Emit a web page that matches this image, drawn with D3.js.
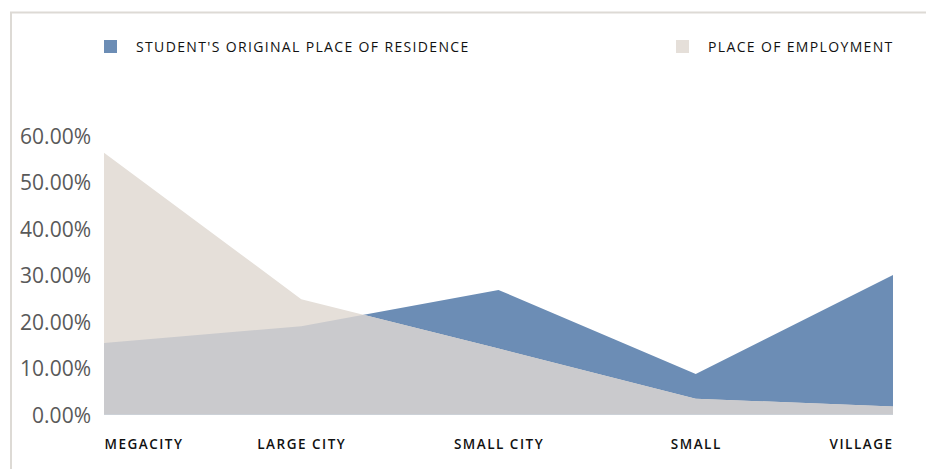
<!DOCTYPE html>
<html>
<head>
	<meta charset="UTF-8">
	<title>Place of residence vs place of employment</title>
	<script src="https://cdnjs.cloudflare.com/ajax/libs/d3/7.8.5/d3.min.js"></script>
	<style>
		body { margin: 0; background: #fff; }
		.tick text { font-family: "Open Sans", sans-serif; }
	</style>
</head>
<body>
	<script>
		// chart data
		var categories = ["MEGACITY", "LARGE CITY", "SMALL CITY", "SMALL", "VILLAGE"];
		var residence = [0.154, 0.190, 0.268, 0.087, 0.300];
		var employment = [0.563, 0.248, 0.142, 0.034, 0.017];
		var seriesNames = ["STUDENT'S ORIGINAL PLACE OF RESIDENCE", "PLACE OF EMPLOYMENT"];
		var yTicks = [0, 0.1, 0.2, 0.3, 0.4, 0.5, 0.6];

		var W = 926, H = 469;
		var blue = "#6c8db5", beige = "#e5dfd9", overlap = "#cacacd";

		var svg = d3.select("body").append("svg")
		    .attr("width", W)
		    .attr("height", H);

		// frame
		svg.append("path")
		    .attr("d", "M11," + H + "V12.5H" + W)
		    .attr("fill", "none")
		    .attr("stroke", "#dddad5")
		    .attr("stroke-width", 2);

		// scales
		var x = d3.scalePoint().domain(categories).range([104, 893]);
		var y = d3.scaleLinear().domain([0, 0.6]).range([414.5, 135.5]);

		var rows = categories.map(function(c, i) {
		    return {cat: c, res: residence[i], emp: employment[i]};
		});

		var areaRes = d3.area()
		    .x(function(d) { return x(d.cat); })
		    .y0(y(0))
		    .y1(function(d) { return y(d.res); });

		var areaEmp = d3.area()
		    .x(function(d) { return x(d.cat); })
		    .y0(y(0))
		    .y1(function(d) { return y(d.emp); });

		svg.append("clipPath")
		    .attr("id", "clip-res")
		    .append("path")
		    .attr("d", areaRes(rows));

		svg.append("path").attr("d", areaRes(rows)).attr("fill", blue);
		svg.append("path").attr("d", areaEmp(rows)).attr("fill", beige);
		// where the two areas overlap
		svg.append("path")
		    .attr("d", areaEmp(rows))
		    .attr("fill", overlap)
		    .attr("clip-path", "url(#clip-res)");

		// y axis
		var gy = svg.append("g")
		    .attr("transform", "translate(91,0)")
		    .call(d3.axisLeft(y).tickValues(yTicks).tickFormat(d3.format(".2%")).tickSize(0).tickPadding(0));
		gy.select(".domain").remove();
		gy.selectAll("text")
		    .attr("fill", "#595959")
		    .style("font-size", "21px")
		    .attr("dy", "0.36em");

		// x axis
		var gx = svg.append("g")
		    .attr("transform", "translate(0,439)")
		    .call(d3.axisBottom(x).tickSize(0).tickPadding(0));
		gx.select(".domain").remove();
		gx.selectAll("text")
		    .attr("fill", "#111")
		    .style("font-size", "13.5px")
		    .style("font-weight", "600")
		    .style("letter-spacing", "1.5px")
		    .attr("dy", "0.71em")
		    .style("text-anchor", function(d, i) {
		        return i === 0 ? "start" : (i === categories.length - 1 ? "end" : "middle");
		    });

		// legend
		var legend = [
		    {name: seriesNames[0], color: blue, x: 104},
		    {name: seriesNames[1], color: beige, x: 676}
		];
		var lg = svg.selectAll(".legend")
		    .data(legend)
		    .enter().append("g")
		    .attr("class", "legend")
		    .attr("transform", function(d) { return "translate(" + d.x + ",40)"; });
		lg.append("rect")
		    .attr("width", 13)
		    .attr("height", 13)
		    .attr("fill", function(d) { return d.color; });
		lg.append("text")
		    .attr("x", 32)
		    .attr("y", 11.5)
		    .attr("fill", "#111")
		    .style("font-family", "'Open Sans', sans-serif")
		    .style("font-size", "14px")
		    .style("letter-spacing", "1.35px")
		    .text(function(d) { return d.name; });
	</script>
</body>
</html>
